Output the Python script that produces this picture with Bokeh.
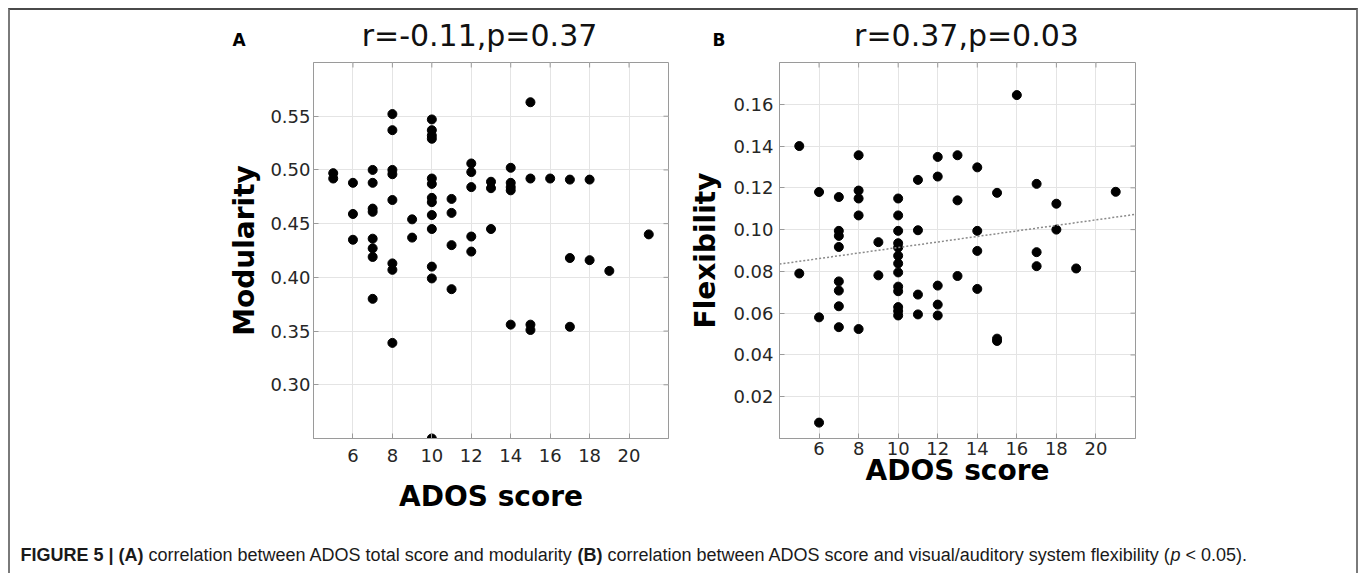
import math
from bokeh.plotting import figure
from bokeh.models import FixedTicker, PrintfTickFormatter, Label, Range1d
from bokeh.layouts import row, column
from bokeh.embed import file_html
from bokeh.resources import INLINE

# ---------------- data ----------------
ados_a = [5, 5,
          6, 6, 6,
          7, 7, 7, 7, 7, 7, 7, 7,
          8, 8, 8, 8, 8, 8, 8, 8,
          9, 9,
          10, 10, 10, 10, 10, 10, 10, 10, 10, 10, 10, 10, 10,
          11, 11, 11, 11,
          12, 12, 12, 12, 12,
          13, 13, 13,
          14, 14, 14, 14, 14,
          15, 15, 15, 15,
          16,
          17, 17, 17,
          18, 18,
          19,
          21]
modularity_a = [0.497, 0.492,
                0.488, 0.459, 0.435,
                0.500, 0.488, 0.464, 0.461, 0.436, 0.427, 0.419, 0.380,
                0.552, 0.537, 0.500, 0.496, 0.472, 0.413, 0.407, 0.339,
                0.454, 0.437,
                0.547, 0.537, 0.532, 0.529, 0.492, 0.487, 0.474, 0.470, 0.458, 0.445, 0.410, 0.399, 0.250,
                0.473, 0.460, 0.430, 0.389,
                0.506, 0.498, 0.484, 0.438, 0.424,
                0.489, 0.483, 0.445,
                0.502, 0.488, 0.484, 0.481, 0.356,
                0.563, 0.492, 0.356, 0.351,
                0.492,
                0.491, 0.418, 0.354,
                0.491, 0.416,
                0.406,
                0.440]

ados_b = [5, 5,
          6, 6, 6,
          7, 7, 7, 7, 7, 7, 7, 7,
          8, 8, 8, 8, 8,
          9, 9,
          10, 10, 10, 10, 10, 10, 10, 10, 10, 10, 10, 10, 10,
          11, 11, 11, 11,
          12, 12, 12, 12, 12,
          13, 13, 13,
          14, 14, 14, 14,
          15, 15, 15,
          16,
          17, 17, 17,
          18, 18,
          19,
          21]
flexibility_b = [0.140, 0.079,
                 0.118, 0.058, 0.0076,
                 0.1156, 0.0994, 0.097, 0.0917, 0.0752, 0.0708, 0.0633, 0.0533,
                 0.1356, 0.1187, 0.1149, 0.1068, 0.0524,
                 0.094, 0.0781,
                 0.1149, 0.1068, 0.0994, 0.0935, 0.0914, 0.0875, 0.0838, 0.0795, 0.0727, 0.0705, 0.0629, 0.061, 0.0589,
                 0.1238, 0.0997, 0.0689, 0.0594,
                 0.1348, 0.1254, 0.0732, 0.0641, 0.0589,
                 0.1356, 0.114, 0.0778,
                 0.1298, 0.0994, 0.0898, 0.0716,
                 0.1176, 0.0478, 0.0467,
                 0.1644,
                 0.1219, 0.0892, 0.0825,
                 0.1124, 0.100,
                 0.0814,
                 0.1181]

fit_x_b = [4, 22]
fit_y_b = [0.0835, 0.1073]

x_range = [4, 22]
a_y_range = [0.25, 0.60]
b_y_range = [0.0, 0.18]
x_ticks = [6, 8, 10, 12, 14, 16, 18, 20]
a_y_ticks = [0.30, 0.35, 0.40, 0.45, 0.50, 0.55]
b_y_ticks = [0.02, 0.04, 0.06, 0.08, 0.10, 0.12, 0.14, 0.16]

panel_letters = ["A", "B"]
panel_titles = ["r=-0.11,p=0.37", "r=0.37,p=0.03"]
x_label = "ADOS score"
y_labels = ["Modularity", "Flexibility"]

caption_parts = ["FIGURE 5 |", "(A)", "correlation between ADOS total score and modularity",
                 "(B)", "correlation between ADOS score and visual/auditory system flexibility (",
                 "p", "< 0.05)."]
caption_styles = ["bold", "bold", "normal", "bold", "normal", "italic", "normal"]
caption_offsets = [0, 98, 128, 557, 587, 1150, 1165]

# ---------------- style ----------------
FONT = "DejaVu Sans"
AX_COL = "#9a9a9a"
GRID_COL = "#e4e4e4"
TICK_COL = "#262626"
PANEL_H = 460


def make_panel(xs, ys, yr, yticks, ylabel, width, mb_left, mb_right,
               y_label_standoff, y_major_standoff, x_major_standoff, x_label_standoff):
    p = figure(width=width, height=PANEL_H, output_backend="svg", toolbar_location=None,
               x_range=Range1d(*x_range), y_range=Range1d(*yr),
               min_border_left=mb_left, min_border_right=mb_right,
               min_border_top=0, min_border_bottom=PANEL_H - 376,
               background_fill_color="white", border_fill_color="white",
               outline_line_color=AX_COL)
    p.xaxis.ticker = FixedTicker(ticks=x_ticks)
    p.yaxis.ticker = FixedTicker(ticks=yticks)
    p.yaxis.formatter = PrintfTickFormatter(format="%.2f")
    for ax in (p.xaxis[0], p.yaxis[0]):
        ax.axis_line_color = AX_COL
        ax.major_tick_line_color = AX_COL
        ax.major_tick_in = 5
        ax.major_tick_out = 0
        ax.minor_tick_line_color = None
        ax.major_label_text_font = FONT
        ax.major_label_text_font_size = "18px"
        ax.major_label_text_color = TICK_COL
        ax.axis_label_text_font = FONT
        ax.axis_label_text_font_style = "bold"
        ax.axis_label_text_font_size = "28px"
        ax.axis_label_text_color = "black"
    p.xaxis.axis_label = x_label
    p.yaxis.axis_label = ylabel
    p.yaxis.axis_label_standoff = y_label_standoff
    p.yaxis.major_label_standoff = y_major_standoff
    p.xaxis.major_label_standoff = x_major_standoff
    p.xaxis.axis_label_standoff = x_label_standoff
    p.xgrid.ticker = FixedTicker(ticks=x_ticks)
    p.ygrid.ticker = FixedTicker(ticks=yticks)
    p.grid.grid_line_color = GRID_COL
    p.grid.grid_line_width = 1

    # mirrored inward ticks on the top and right edges of the box (half clipped by the frame)
    p.scatter(x_ticks, [yr[1]] * len(x_ticks), marker="dash", angle=math.pi / 2, size=10,
              line_color=AX_COL, line_width=1)
    p.scatter([x_range[1]] * len(yticks), yticks, marker="dash", size=10,
              line_color=AX_COL, line_width=1)

    p.scatter(xs, ys, size=9, color="black")
    return p


pa = make_panel(ados_a, modularity_a, a_y_range, a_y_ticks, y_labels[0],
                676, 303, 676 - 303 - 355, 6, 3, 10, 15)
pb = make_panel(ados_b, flexibility_b, b_y_range, b_y_ticks, y_labels[1],
                670, 93, 670 - 93 - 356, 8, 6, 3, -4)
pb.line(fit_x_b, fit_y_b, line_color="#8a8a8a", line_width=1.5, line_dash="2 2")


def text_strip(height):
    f = figure(width=1346, height=height, output_backend="svg", toolbar_location=None,
               x_axis_type=None, y_axis_type=None, min_border=0,
               x_range=Range1d(0, 1), y_range=Range1d(0, 1),
               outline_line_color=None, background_fill_color="white", border_fill_color="white")
    f.grid.visible = False
    return f


head = text_strip(52)
for letter, lx, title, tx in zip(panel_letters, [222, 702], panel_titles, [469, 956]):
    head.add_layout(Label(x=lx, y=23, x_units="screen", y_units="screen", text=letter,
                          text_font=FONT, text_font_style="bold", text_font_size="17px",
                          text_color="black", text_baseline="alphabetic", text_align="left"))
    head.add_layout(Label(x=tx, y=27, x_units="screen", y_units="screen", text=title,
                          text_font=FONT, text_font_size="30px", text_color="#111111",
                          text_baseline="alphabetic", text_align="center"))

cap = text_strip(51)
for txt, sty, off in zip(caption_parts, caption_styles, caption_offsets):
    cap.add_layout(Label(x=10 + off, y=19, x_units="screen", y_units="screen", text=txt,
                         text_font="Liberation Sans", text_font_size="18px",
                         text_font_style=sty, text_color="#1a1a1a",
                         text_baseline="alphabetic", text_align="left"))

layout = column(head, row(pa, pb), cap,
                styles={"margin-left": "8px", "margin-top": "8px",
                        "border-top": "2px solid #4a4a4a",
                        "border-left": "2px solid #7a7a7a",
                        "border-right": "2px solid #7a7a7a"})

open("out.html", "w").write(file_html(layout, INLINE))
